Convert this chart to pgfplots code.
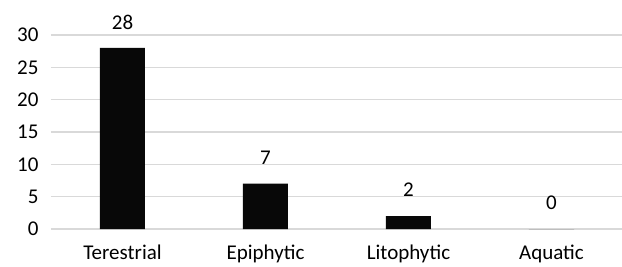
\documentclass[border=0pt]{standalone}
\usepackage{pgfplots}
\pgfplotsset{compat=1.18}
\usepackage{fontspec}
\setmainfont{Carlito}
\definecolor{gridgray}{RGB}{217,217,217}
\begin{document}
\begin{tikzpicture}
\useasboundingbox (-51pt,-37pt) rectangle (571pt,229pt);
\begin{axis}[
  scale only axis,
  width=572pt, height=194pt,
  xmin=-0.5, xmax=3.5,
  ymin=0, ymax=30,
  ytick={0,5,...,30},
  xtick=data,
  xticklabels={Terestrial,Epiphytic,Litophytic,Aquatic},
  axis line style={draw=none},
  major tick length=0pt,
  ymajorgrids,
  grid style={gridgray, line width=1.2pt},
  ybar, bar width=45pt,
  nodes near coords,
  nodes near coords style={anchor=center, yshift=26pt, text=black, font=\fontsize{21}{23}\selectfont},
  tick label style={font=\fontsize{21}{23}\selectfont},
  /pgf/number format/assume math mode=true,
  yticklabel style={xshift=-9pt},
  xticklabel style={yshift=-12pt},
  clip=false,
]
\addplot[fill=black!97, draw=none] coordinates {(0,28) (1,7) (2,2) (3,0)};
\end{axis}
\end{tikzpicture}
\end{document}
